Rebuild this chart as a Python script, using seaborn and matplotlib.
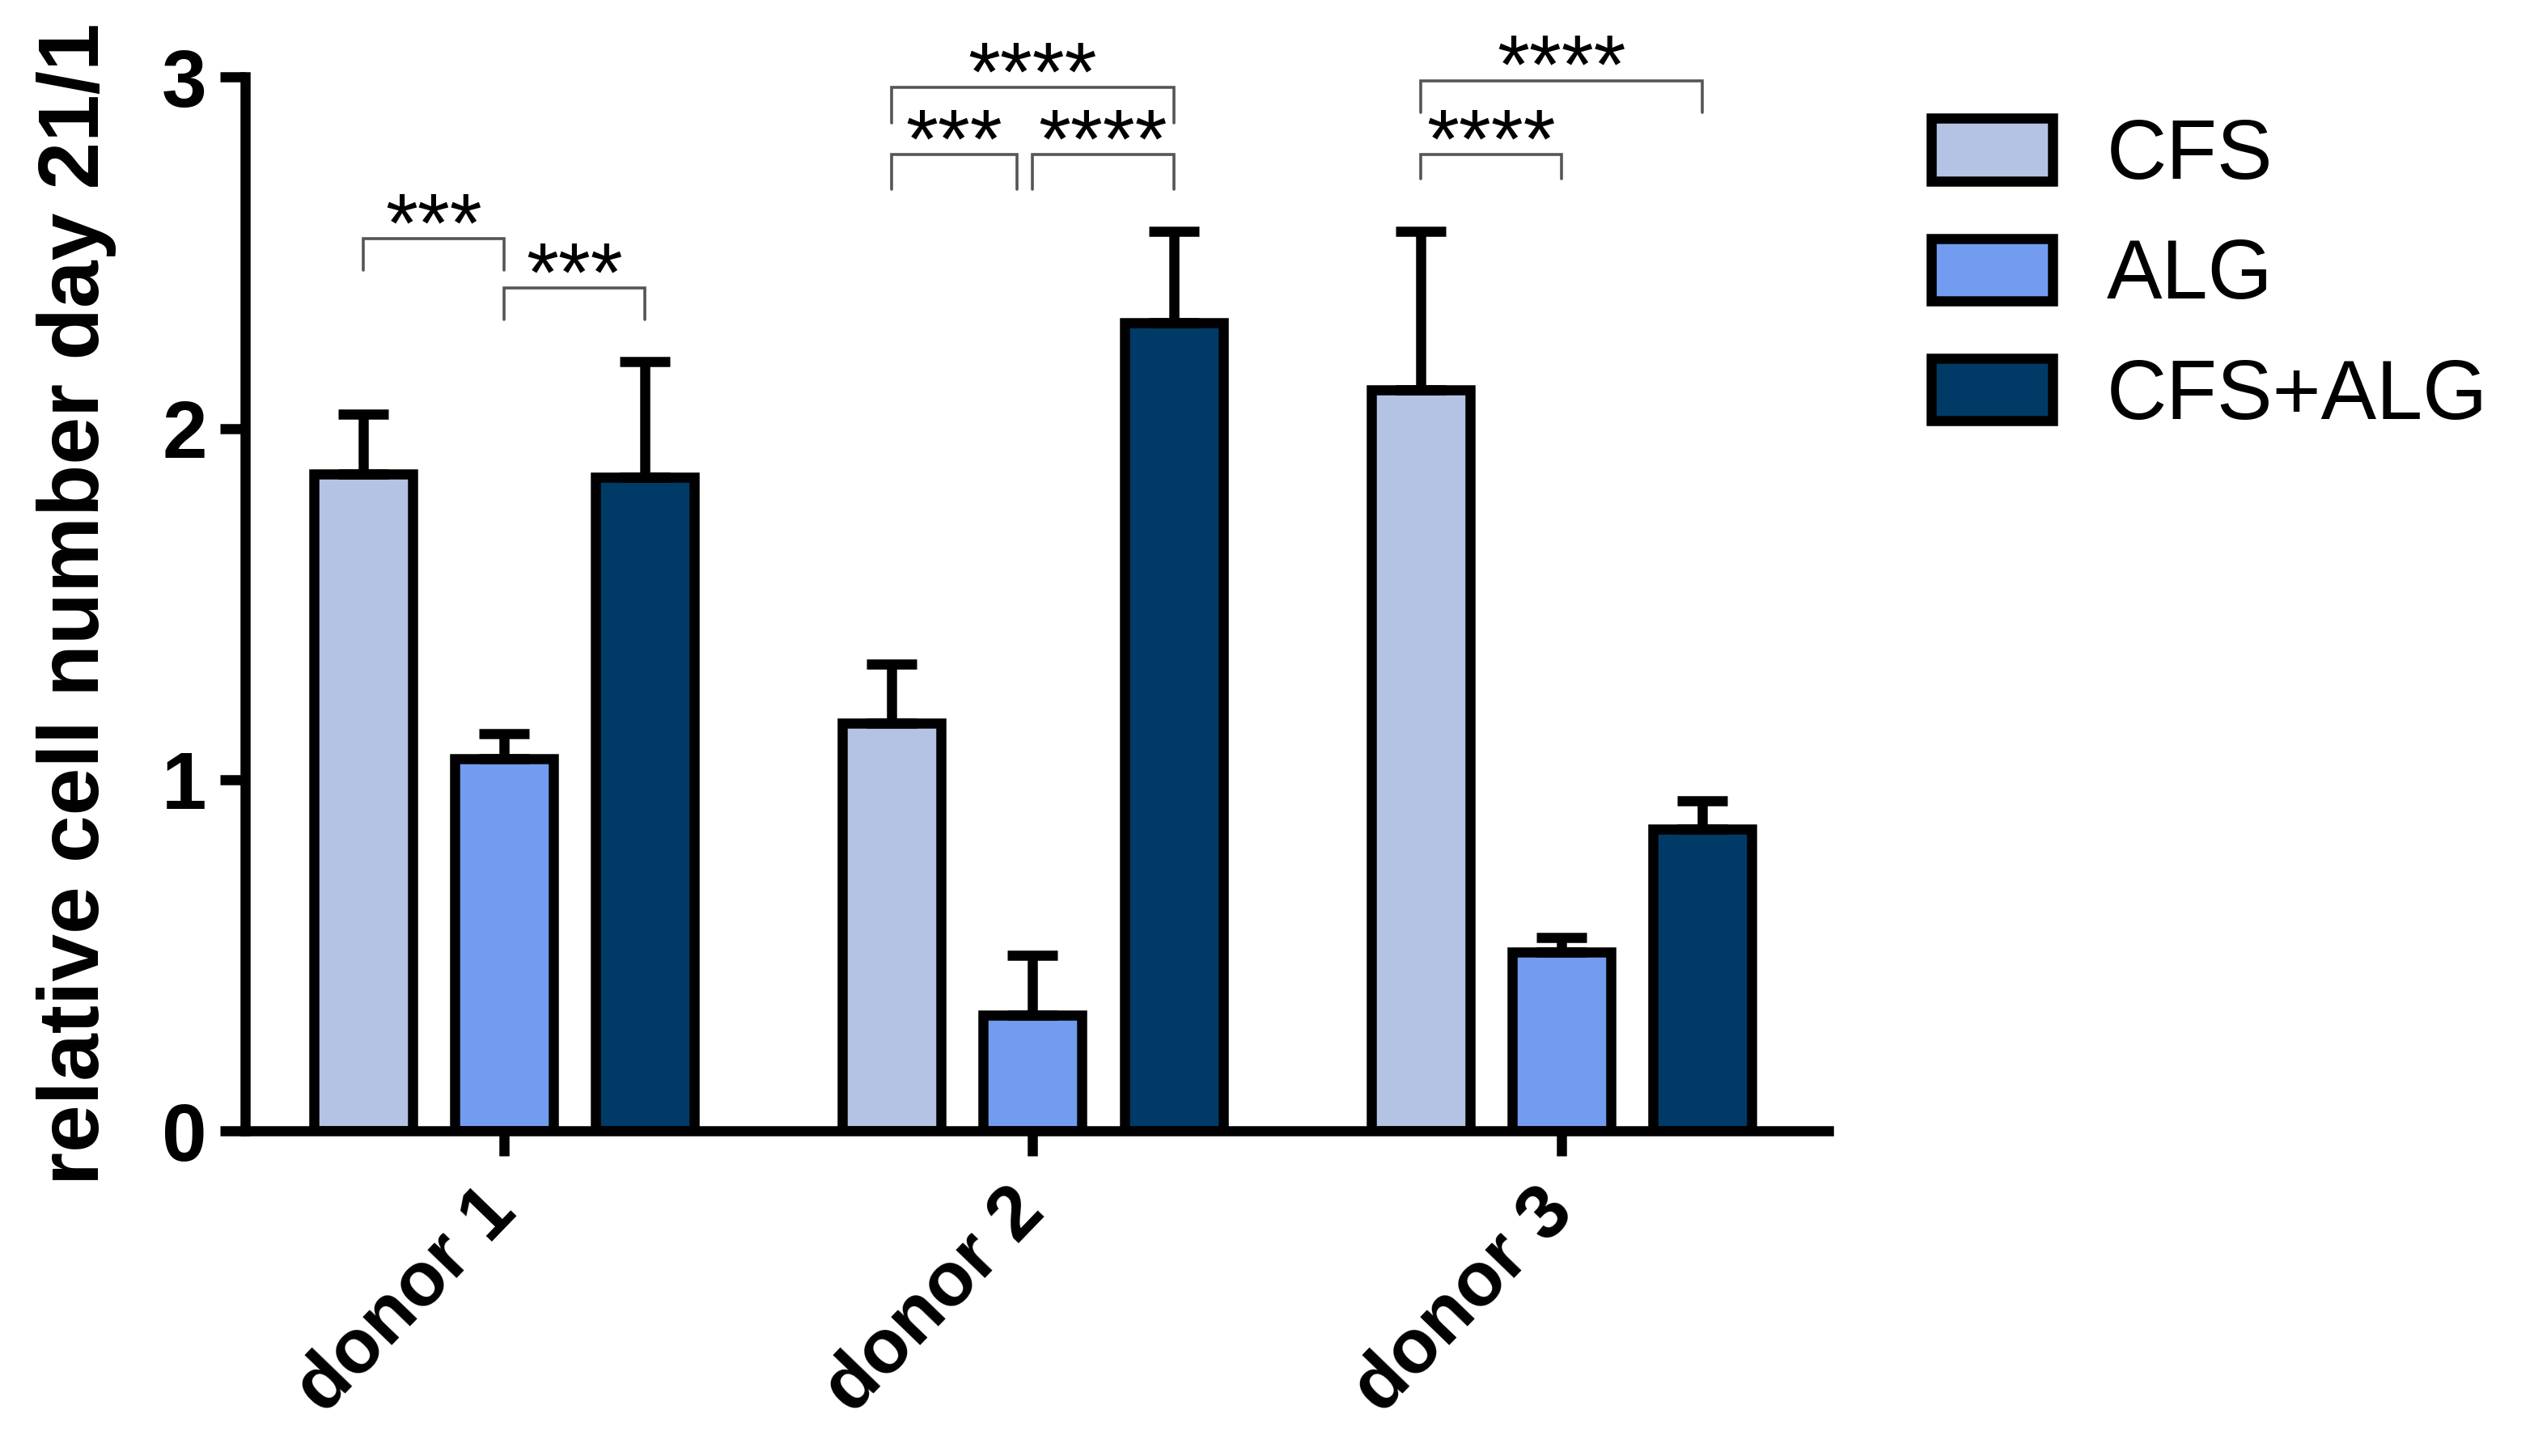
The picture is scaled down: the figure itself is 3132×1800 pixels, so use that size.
import matplotlib
matplotlib.use("Agg")
import matplotlib.pyplot as plt
from matplotlib.patches import Patch
import numpy as np
import pandas as pd
import seaborn as sns

donors = ["donor 1", "donor 2", "donor 3"]
groups = ["CFS", "ALG", "CFS+ALG"]
colors = ["#B4C3E3", "#729CEF", "#003B67"]

# mean per donor
cfs_mean = [1.87, 1.16, 2.11]
alg_mean = [1.06, 0.33, 0.51]
combo_mean = [1.86, 2.30, 0.86]
# upper error bar length
cfs_err = [0.17, 0.17, 0.45]
alg_err = [0.07, 0.17, 0.04]
combo_err = [0.33, 0.26, 0.08]

# significance brackets: donor, from group, to group, height, label
sig_donor = [0, 0, 1, 1, 1, 2, 2]
sig_from = [0, 1, 0, 0, 1, 0, 0]
sig_to = [1, 2, 2, 1, 2, 2, 1]
sig_y = [2.54, 2.40, 2.97, 2.78, 2.78, 2.99, 2.78]
sig_drop = [0.09, 0.09, 0.10, 0.10, 0.10, 0.09, 0.07]
sig_trim = [0.0, 0.0, 0.0, 0.03, 0.0, 0.0, 0.0]
sig_text = ["***", "***", "****", "***", "****", "****", "****"]

means = [cfs_mean, alg_mean, combo_mean]
errs = [cfs_err, alg_err, combo_err]

rows = []
for g, vals in zip(groups, means):
    for d, v in zip(donors, vals):
        rows.append({"donor": d, "group": g, "value": v})
df = pd.DataFrame(rows)

sns.set_style("ticks")
plt.rcParams["font.family"] = ["Liberation Sans", "DejaVu Sans"]
plt.rcParams.update({"text.color": "black", "axes.labelcolor": "black",
                     "xtick.color": "black", "ytick.color": "black",
                     "axes.edgecolor": "black"})

LW = 4.5
fig = plt.figure(figsize=(15.66, 9), dpi=200)
ax = fig.add_axes([0.0967, 0.2233, 0.625, 0.7237])

sns.barplot(data=df, x="donor", y="value", hue="group", order=donors,
            hue_order=groups, palette=colors, saturation=1, edgecolor="black",
            linewidth=LW, width=0.8, gap=0.3, errorbar=None, legend=False,
            ax=ax)

centers = []
for cont, err in zip(ax.containers, errs):
    xs = [p.get_x() + p.get_width() / 2 for p in cont.patches]
    ys = [p.get_height() for p in cont.patches]
    centers.append(xs)
    ax.errorbar(xs, ys, yerr=[np.zeros(len(err)), err], fmt="none",
                ecolor="black", elinewidth=LW, capsize=11, capthick=LW,
                zorder=3)

for d, a, b, y, drop, trim, txt in zip(sig_donor, sig_from, sig_to, sig_y,
                                       sig_drop, sig_trim, sig_text):
    x0 = centers[a][d]
    x1 = centers[b][d] - trim
    ax.plot([x0, x0, x1, x1], [y - drop, y, y, y - drop], color="#555555",
            lw=1.3, solid_joinstyle="miter", clip_on=False)
    ax.text((x0 + x1) / 2, y - 0.037, txt, ha="center", va="baseline",
            fontsize=37, clip_on=False)

ax.set_xlim(-0.49, 2.506)
ax.set_ylim(0, 3)
ax.set_yticks([0, 1, 2, 3])
ax.set_xlabel("")
ax.set_ylabel("relative cell number day 21/1", fontsize=38,
              fontweight="bold", labelpad=20)
sns.despine(ax=ax)
for s in ["left", "bottom"]:
    ax.spines[s].set_linewidth(LW)
ax.tick_params(axis="both", width=LW, length=11, direction="out")
ax.tick_params(axis="y", labelsize=36, pad=6)
ax.tick_params(axis="x", labelsize=34, pad=20)
for lab in ax.get_yticklabels():
    lab.set_fontweight("bold")
for lab in ax.get_xticklabels():
    lab.set_fontweight("bold")
    lab.set_rotation(46)
    lab.set_ha("right")
    lab.set_va("center")
    lab.set_rotation_mode("anchor")

handles = [Patch(facecolor=c, edgecolor="black", linewidth=LW, label=g)
           for c, g in zip(colors, groups)]
fig.legend(handles=handles, loc="upper left", bbox_to_anchor=(0.762, 0.919),
           frameon=False, fontsize=37, handlelength=1.46, handleheight=0.78,
           handletextpad=0.65, labelspacing=0.5, borderpad=0,
           borderaxespad=0)

fig.savefig("out.png", dpi=200)
